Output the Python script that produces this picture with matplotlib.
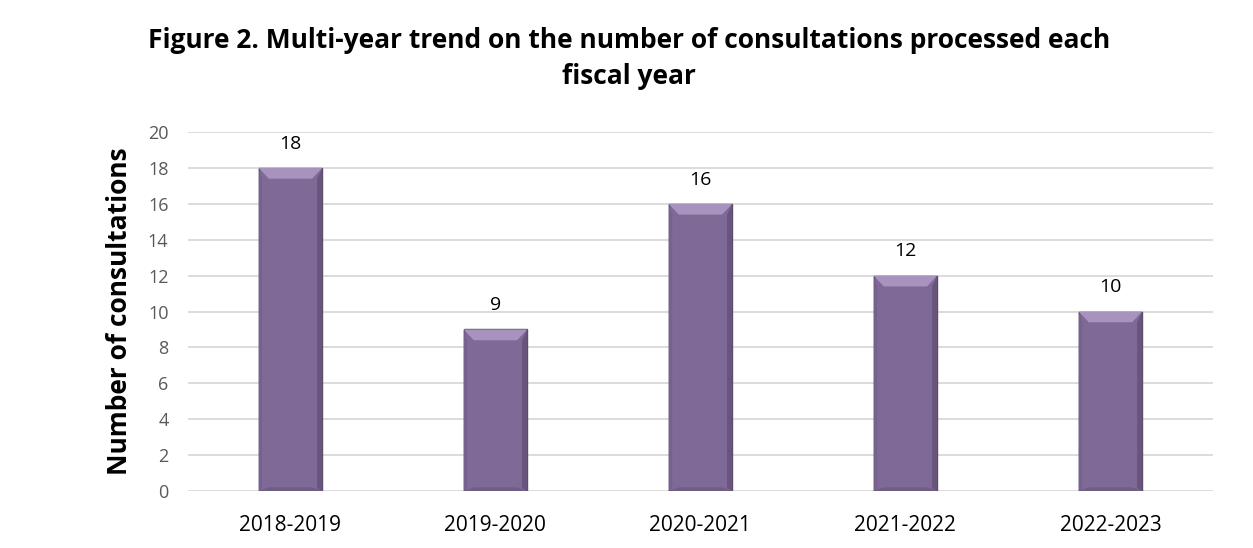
import matplotlib.pyplot as plt
from matplotlib.patches import Polygon

# data
years = ['2018-2019', '2019-2020', '2020-2021', '2021-2022', '2022-2023']
consultations = [18, 9, 16, 12, 10]
yticks = [0, 2, 4, 6, 8, 10, 12, 14, 16, 18, 20]

fig = plt.figure(figsize=(12.53, 5.48), dpi=100)
ax = fig.add_axes([0.150, 0.104, 0.818, 0.655])

bar_w = 0.31
bars = ax.bar(range(len(years)), consultations, width=bar_w, color='#7f6a97',
              edgecolor='#5b4a6c', linewidth=1.0, zorder=3)

# fake bevel: light top, darker sides
for b in bars:
    x0 = b.get_x()
    x1 = x0 + b.get_width()
    h = b.get_height()
    dx = b.get_width() * 0.16
    dy = 0.6
    top = Polygon([(x0, h), (x1, h), (x1 - dx, h - dy), (x0 + dx, h - dy)],
                  closed=True, facecolor='#a892be', edgecolor='none', zorder=4)
    right = Polygon([(x1, h), (x1, 0), (x1 - dx * 0.5, 0.15), (x1 - dx * 0.5, h - dy)],
                    closed=True, facecolor='#67557c', edgecolor='none', zorder=4)
    left = Polygon([(x0, h), (x0, 0), (x0 + dx * 0.35, 0.15), (x0 + dx * 0.35, h - dy)],
                   closed=True, facecolor='#76638d', edgecolor='none', zorder=4)
    bottom = Polygon([(x0, 0), (x1, 0), (x1 - dx, 0.2), (x0 + dx, 0.2)],
                     closed=True, facecolor='#6f5d84', edgecolor='none', zorder=4)
    for p in (top, right, left, bottom):
        ax.add_patch(p)
    ax.annotate(str(int(h)), (b.get_x() + b.get_width() / 2, h), xytext=(0, 11),
                textcoords='offset points', ha='center', va='bottom',
                fontsize=14, family='Open Sans', color='black')

ax.set_xlim(-0.5, len(years) - 0.5)
ax.set_ylim(0, 20)
ax.set_yticks(yticks)
ax.set_xticks(range(len(years)))
ax.set_xticklabels(years, fontsize=15, family='Open Sans', color='black')
for lbl in ax.get_yticklabels():
    lbl.set_fontsize(13)
    lbl.set_family('Open Sans')
    lbl.set_color('#595959')

ax.yaxis.grid(True, color='#d9d9d9', linewidth=1.3, zorder=0)
ax.set_axisbelow(True)
for s in ax.spines.values():
    s.set_visible(False)
ax.tick_params(axis='both', length=0)
ax.tick_params(axis='y', pad=14)
ax.tick_params(axis='x', pad=17)

ax.set_ylabel('Number of consultations', fontsize=19, fontweight='bold',
              family='Open Sans', labelpad=11)

fig.text(0.502, 0.951, 'Figure 2. Multi-year trend on the number of consultations processed each\nfiscal year',
         ha='center', va='top', fontsize=19, fontweight='bold', family='Open Sans',
         linespacing=1.45)

fig.savefig('out.png', dpi=100, facecolor='white')
